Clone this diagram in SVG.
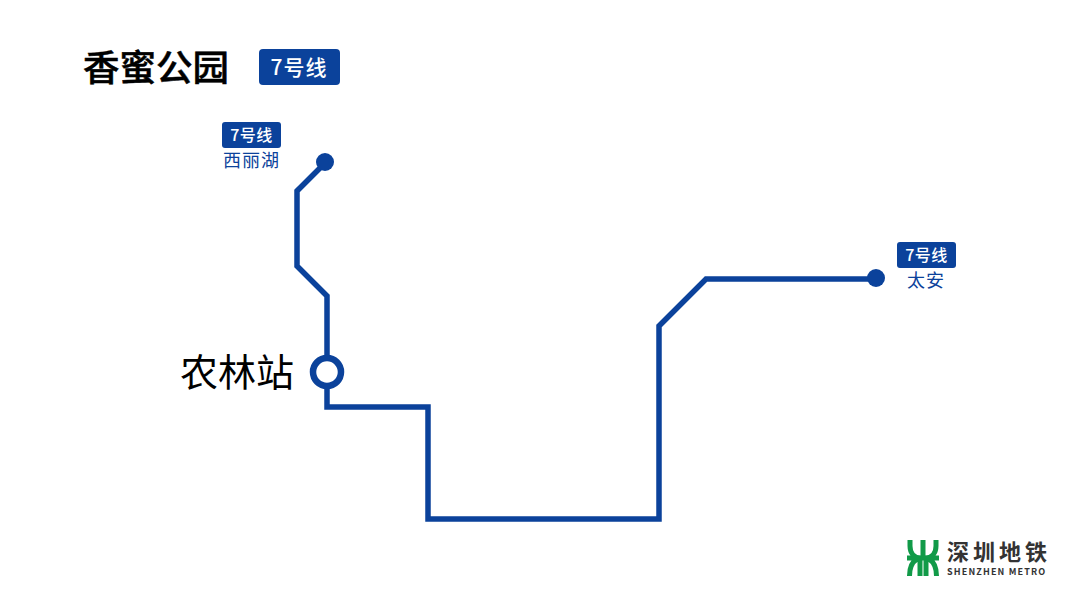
<svg xmlns="http://www.w3.org/2000/svg" width="1080" height="593" viewBox="0 0 1080 593">
<style>
text{font-family:"Noto Sans CJK SC","Noto Sans",sans-serif}
.b{fill:#0b429b}
.w{fill:#fff;font-weight:500;text-anchor:middle}
.s{fill:#0b429b;font-size:18px;font-weight:400;letter-spacing:1px;text-anchor:middle}
.g{fill:none;stroke:#119a48;stroke-width:5}
</style>
<rect width="1080" height="593" fill="#fff"/>
<text x="83" y="81" font-size="36.5" font-weight="500" fill="#000" stroke="#000" stroke-width="0.500">香蜜公园</text>
<g id="badge-main"><rect class="b" x="259" y="49" width="81" height="36" rx="4"/><text class="w" x="299" y="75" font-size="21" letter-spacing="1">7号线</text></g>
<g id="connectors"><path d="M325 163L297 191V266L327 296V407H428V519H659V326L706 279H876" fill="none" stroke="#0b429b" stroke-width="5.500"/></g>
<g id="node-xilihu"><circle class="b" cx="325" cy="162" r="9"/><rect class="b" x="222" y="122" width="59" height="26" rx="3"/><text class="w" x="251.500" y="141" font-size="16" letter-spacing="0.500">7号线</text><text class="s" x="251.500" y="167">西丽湖</text></g>
<g id="node-taian"><circle class="b" cx="876" cy="278" r="9"/><rect class="b" x="897" y="242" width="59" height="26" rx="3"/><text class="w" x="926.500" y="261" font-size="16" letter-spacing="0.500">7号线</text><text class="s" x="926" y="287">太安</text></g>
<g id="node-nonglin"><circle cx="327" cy="372" r="14" fill="#fff" stroke="#0b429b" stroke-width="6.500"/><text x="180" y="386" font-size="38" fill="#000">农林站</text></g>
<g id="logo"><path class="g" d="M910 540V546C910 553 914 558 921 558H925C932 558 936 553 936 546V540M923 540V558M907 558H939M920 558V576M926 558V576M917 559C912 562 909.500 568 909.500 576M929 559C934 562 936.500 568 936.500 576"/><text x="947" y="560" font-size="22" font-weight="700" fill="#333" letter-spacing="4">深圳地铁</text><text x="947" y="575" font-family="Liberation Sans" font-size="9" font-weight="700" fill="#333" letter-spacing="1.150">SHENZHEN METRO</text></g>
</svg>
